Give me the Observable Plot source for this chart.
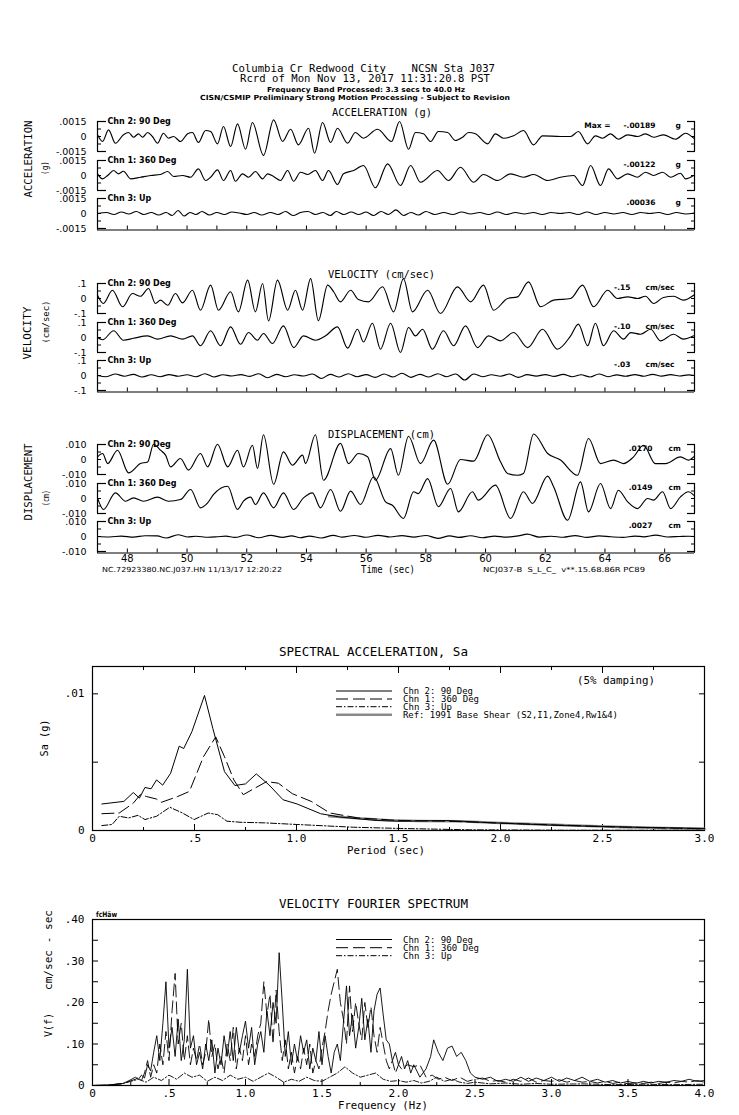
<!DOCTYPE html>
<html><head><meta charset="utf-8">
<script src="https://cdn.jsdelivr.net/npm/d3@7"></script>
<script src="https://cdn.jsdelivr.net/npm/@observablehq/plot@0.6"></script>
<style>
html,body{margin:0;padding:0;background:#fff;}
#page{position:relative;width:739px;height:1115px;overflow:hidden;background:#fff;}
</style></head><body><div id="page"></div>
<script>
const MONO = "'DejaVu Sans Mono', monospace";
const SANS = "'DejaVu Sans', sans-serif";

// ---------- time-history axes ----------
const timeDomain = [47, 67];
const timeTicks = [47,48,49,50,51,52,53,54,55,56,57,58,59,60,61,62,63,64,65,66,67];
const timeTickLabels = [48,50,52,54,56,58,60,62,64,66];
const chnNames = ["Chn 2: 90 Deg", "Chn 1: 360 Deg", "Chn 3: Up"];

// ---------- acceleration (g) ----------
const accTicks = [-0.0015, 0, 0.0015];
const accPeaks = ["-.00189", "-.00122", ".00036"];
const acc90 = [[47.00,.00017],[47.17,-.0005],[47.37,.00067],[47.60,-.00067],[47.87,.00017],[48.04,.0004],[48.21,-.00007],[48.37,.00027],[48.51,-.00007],[48.68,.0004],[48.84,0],[49.01,-.00067],[49.21,.00033],[49.38,-.00017],[49.55,0],[49.78,-.0005],[50.02,.00027],[50.18,.0004],[50.38,-.0006],[50.62,.0006],[50.79,.0005],[51.02,-.00073],[51.22,.001],[51.46,-.001],[51.69,.00127],[51.96,-.00127],[52.19,.0014],[52.56,-.00189],[52.90,.00167],[53.20,-.0005],[53.47,.00073],[53.73,-.00083],[54.07,.00083],[54.27,-.00167],[54.54,.0014],[54.81,-.0006],[55.04,.00083],[55.38,-.00067],[55.64,.0004],[55.91,-.00017],[56.38,.00073],[56.85,-.0005],[57.12,.0015],[57.42,-.00127],[57.65,.0004],[57.92,.00027],[58.16,-.0005],[58.42,.0005],[58.73,.0004],[58.99,-.0004],[59.23,-.00007],[59.43,.0004],[59.66,.00027],[60.07,-.00073],[60.33,.00027],[60.60,-.00017],[60.94,.00007],[61.27,.0006],[61.61,-.00083],[61.91,.00007],[62.51,0],[62.85,0],[63.11,.0005],[63.42,-.00073],[63.68,.00007],[63.92,-.00017],[64.19,.00027],[64.45,-.00027],[64.76,.00017],[65.09,0],[65.36,.00027],[65.63,-.00007],[65.96,.00017],[66.36,-.00027],[66.70,.00033],[66.97,-.00017]];
const acc360 = [[47.00,.00017],[47.17,-.00033],[47.34,0],[47.54,.0005],[47.70,.00017],[47.87,.00043],[48.11,-.00033],[48.44,-.00017],[48.78,0],[49.11,.0001],[49.35,.0004],[49.55,-.0001],[49.85,0],[50.12,-.00017],[50.38,.00067],[50.62,-.0005],[50.79,-.00017],[51.02,.00057],[51.22,-.0005],[51.46,.0005],[51.62,-.00057],[51.86,.00017],[52.06,-.00017],[52.29,.0004],[52.53,-.00033],[52.70,.00017],[52.90,-.0001],[53.13,-.0005],[53.37,.0005],[53.57,-.00057],[53.80,.00033],[54.04,.0001],[54.30,.0005],[54.54,-.0005],[54.74,.0005],[55.04,-.0009],[55.24,.00017],[55.58,.0005],[55.91,.001],[56.31,-.00122],[56.72,.00117],[57.15,-.001],[57.49,.001],[57.82,-.00067],[58.39,.0005],[58.76,-.0005],[59.16,.00083],[59.60,-.00067],[59.93,.0001],[60.40,-.0005],[60.84,.00017],[61.27,-.00017],[61.61,.0001],[62.08,-.0005],[62.51,-.00017],[62.95,0],[63.25,-.001],[63.52,.001],[63.85,-.001],[64.12,.00067],[64.42,-.00033],[64.76,.00017],[65.09,-.00017],[65.36,.00033],[65.63,0],[65.93,.00033],[66.20,-.00017],[66.53,.00023],[66.70,-.00033],[66.97,0]];
const accUp = [[47.0,0],[47.3,.0001],[47.55,-.0001],[47.8,.00015],[48.05,-.00005],[48.3,.0002],[48.55,-.0001],[48.8,.0001],[49.05,-.00015],[49.3,.0001],[49.5,-.0002],[49.7,.0003],[49.9,-.00025],[50.1,.0001],[50.3,-.0001],[50.5,.0002],[50.75,-.00015],[51.0,.0001],[51.25,-.0001],[51.5,.00015],[51.75,.00005],[52.0,-.0001],[52.25,.0001],[52.5,-.00015],[52.8,.0001],[53.05,-.0001],[53.3,.0002],[53.55,-.0002],[53.8,.0001],[54.05,.0002],[54.3,-.0001],[54.55,.0001],[54.8,-.0002],[55.0,.0002],[55.25,-.0001],[55.5,.00015],[55.75,-.0001],[56.0,.00015],[56.25,-.0002],[56.5,.0002],[56.75,-.0001],[57.0,.00036],[57.25,-.0002],[57.5,.0001],[57.75,-.00015],[58.0,.0002],[58.3,-.0001],[58.6,.0001],[58.9,-.0001],[59.2,.00015],[59.5,-.00005],[59.8,.0001],[60.1,-.0001],[60.4,.00015],[60.7,-.0001],[61.0,.0001],[61.3,-.00005],[61.6,.0001],[61.9,-.0001],[62.2,.0001],[62.5,0],[62.8,.0001],[63.1,-.0001],[63.4,.00015],[63.7,-.0001],[64.0,.0001],[64.3,-.00005],[64.6,.0001],[64.9,-.0001],[65.2,.0001],[65.5,0],[65.8,.0001],[66.1,-.0001],[66.4,.0001],[66.7,-.00005],[67.0,.00005]];

// ---------- velocity (cm/sec) ----------
const velTicks = [-0.1, 0, 0.1];
const velPeaks = ["-.15", "-.10", "-.03"];
const vel90 = [[47.00,.022],[47.20,-.033],[47.50,.055],[47.84,-.055],[48.17,.033],[48.44,.015],[48.71,.067],[48.94,-.033],[49.11,-.011],[49.35,-.045],[49.61,.033],[49.85,-.029],[50.18,.055],[50.45,-.078],[50.79,.089],[51.05,-.078],[51.46,.045],[51.72,-.089],[52.03,.122],[52.29,-.089],[52.53,.10],[52.73,-.15],[53.03,.122],[53.37,-.078],[53.63,.055],[53.87,-.078],[54.14,.133],[54.40,-.148],[54.71,.089],[54.91,.045],[55.14,-.022],[55.48,.055],[55.74,-.007],[56.08,-.022],[56.55,.078],[56.92,-.089],[57.25,.133],[57.55,-.089],[58.06,.055],[58.49,-.10],[59.06,.078],[59.50,-.022],[59.93,.089],[60.27,-.078],[60.74,0],[61.07,.011],[61.44,.111],[61.84,-.055],[62.28,-.011],[62.85,0],[63.25,.089],[63.62,-.055],[64.09,.055],[64.42,0],[64.76,.011],[65.09,0],[65.36,.015],[65.63,-.033],[65.96,.007],[66.30,.015],[66.63,-.011],[66.97,.022]];
const vel360 = [[47.00,0],[47.17,-.015],[47.54,.045],[47.87,-.018],[48.21,-.005],[48.68,.011],[49.01,-.011],[49.45,.011],[49.85,-.011],[50.18,.011],[50.45,-.055],[50.79,.045],[51.12,-.055],[51.46,.071],[51.79,-.045],[52.06,.033],[52.36,-.018],[52.56,.027],[52.86,-.04],[53.23,.078],[53.57,-.067],[53.90,.011],[54.30,-.018],[54.64,.011],[55.04,.071],[55.38,-.071],[55.71,.055],[55.91,-.03],[56.21,.095],[56.48,-.078],[56.82,.095],[57.15,-.10],[57.42,.067],[57.65,.011],[57.89,.055],[58.22,-.078],[58.59,.045],[58.93,-.055],[59.33,.078],[59.73,-.067],[60.10,.011],[60.50,-.022],[60.94,.033],[61.41,-.067],[61.91,.055],[62.41,-.078],[62.85,.011],[63.11,.089],[63.42,-.055],[63.68,.095],[63.95,-.055],[64.29,.045],[64.62,-.011],[64.86,.033],[65.19,.022],[65.53,.055],[65.86,-.022],[66.30,.022],[66.63,-.011],[66.97,.011]];
const velUp = [[47.0,0],[47.3,-.008],[47.6,.01],[47.9,-.005],[48.2,.008],[48.5,-.01],[48.8,.005],[49.1,-.008],[49.4,.006],[49.7,-.005],[50.0,.005],[50.3,-.008],[50.6,.012],[50.9,-.01],[51.2,.005],[51.5,-.003],[51.8,.006],[52.1,-.006],[52.4,.012],[52.7,-.015],[53.0,.008],[53.3,-.008],[53.6,.005],[53.9,-.003],[54.2,.01],[54.5,-.02],[54.8,.008],[55.1,-.01],[55.4,.012],[55.7,-.008],[56.0,.006],[56.3,-.012],[56.6,.01],[56.9,-.01],[57.2,.015],[57.5,-.012],[57.8,.008],[58.1,-.01],[58.4,.012],[58.7,-.008],[59.0,.01],[59.3,-.03],[59.6,.01],[59.9,-.008],[60.2,.005],[60.5,-.005],[60.8,.01],[61.1,-.012],[61.4,.006],[61.7,-.004],[62.0,.006],[62.3,-.006],[62.6,.008],[62.9,-.008],[63.2,.005],[63.5,-.01],[63.8,.01],[64.1,-.008],[64.4,.004],[64.7,-.005],[65.0,.006],[65.3,-.005],[65.6,.008],[65.9,-.004],[66.2,.006],[66.5,-.003],[66.8,.004],[67.0,0]];

// ---------- displacement (cm) ----------
const dispTicks = [-0.010, 0, 0.010];
const dispPeaks = [".0170", ".0149", ".0027"];
const disp90 = [[47.00,.0018],[47.17,.004],[47.34,-.0027],[47.67,.0062],[48.04,-.0089],[48.44,-.0027],[48.68,-.0016],[48.88,.0102],[49.11,.0062],[49.28,.0029],[49.45,-.0049],[49.78,.0007],[50.05,-.0071],[50.45,.004],[50.69,-.0049],[51.02,.0102],[51.36,-.0049],[51.69,.0062],[51.89,-.0049],[52.19,.0095],[52.36,-.006],[52.56,.0165],[52.90,-.0165],[53.23,.0051],[53.53,-.0038],[53.87,.0029],[53.97,-.0027],[54.30,.0165],[54.57,-.0138],[55.14,.0107],[55.41,-.0027],[55.74,.004],[56.05,.0018],[56.31,-.0138],[56.82,.0073],[57.08,-.0105],[57.42,.0155],[57.82,-.0027],[58.26,.0129],[58.73,-.0165],[59.16,0],[59.60,-.0011],[60.07,.0165],[60.50,-.0015],[60.74,-.0093],[61.07,-.0105],[61.27,-.0093],[61.61,.017],[62.08,.004],[62.51,-.0004],[63.08,-.0105],[63.45,.014],[63.85,-.0027],[64.29,-.0004],[64.62,-.0027],[64.96,.0018],[65.29,.0095],[65.69,-.0027],[66.03,-.0027],[66.53,.0018],[66.80,-.0004],[66.97,.0018]];
const disp360 = [[47.00,.0004],[47.20,-.0073],[47.60,.0038],[47.94,-.0018],[48.21,.0004],[48.54,-.0018],[49.01,.0009],[49.38,-.0018],[49.78,-.0007],[50.12,.006],[50.45,-.0062],[50.69,-.0029],[50.89,.0027],[51.36,.0082],[51.69,-.0073],[51.89,-.0018],[52.13,.0009],[52.29,-.004],[52.56,.0038],[52.90,-.0062],[53.23,.0038],[53.57,-.0073],[53.90,.0004],[54.20,.0038],[54.47,-.0062],[54.81,.006],[55.14,-.0085],[55.48,.0049],[55.81,-.004],[56.25,.0145],[56.65,-.0022],[56.88,-.0045],[57.25,-.0133],[57.59,.0045],[57.75,.0033],[58.06,.0133],[58.42,-.0055],[58.83,.0067],[59.09,-.0089],[59.56,.0045],[59.76,-.0011],[60.33,.0089],[60.84,-.0133],[61.27,.0045],[61.57,-.0033],[62.08,.0149],[62.28,.0078],[62.75,-.0145],[63.18,.0111],[63.45,-.0089],[63.85,.01],[64.19,-.0067],[64.45,.0055],[64.76,-.0022],[65.09,-.0067],[65.43,0],[65.63,-.0011],[65.93,.0045],[66.20,-.0067],[66.53,.0011],[66.80,.0045],[66.97,.0022]];
const dispUp = [[47.0,0],[47.4,-.0003],[47.8,.0003],[48.2,-.0004],[48.6,.0005],[49.0,.0004],[49.3,-.001],[49.7,.0012],[50.0,-.0003],[50.3,.0002],[50.7,-.0005],[51.0,-.0002],[51.3,.0003],[51.6,-.0006],[52.0,.001],[52.4,-.0008],[52.8,.0008],[53.2,-.0006],[53.5,.0004],[53.8,-.0008],[54.1,.0003],[54.5,-.001],[54.9,.0008],[55.2,-.0004],[55.6,.0007],[56.0,-.0005],[56.4,.0008],[56.8,-.0003],[57.2,.0006],[57.6,-.0004],[58.0,.0007],[58.4,-.0012],[58.8,.0004],[59.1,-.0006],[59.5,.0005],[59.9,-.0008],[60.3,.0003],[60.7,-.0004],[61.1,.0004],[61.4,.0016],[61.8,-.0004],[62.2,.0002],[62.6,-.0005],[63.0,.0006],[63.4,-.0006],[63.8,.0004],[64.2,-.0002],[64.6,-.0006],[65.0,.0003],[65.3,-.0002],[65.7,.0009],[66.1,-.0003],[66.5,0],[66.8,.0002],[67.0,0]];

// ---------- spectral acceleration ----------
const saXTicks = [0,0.5,1,1.5,2,2.5,3];
const saXMinor = [0.25,0.75,1.25,1.75,2.25,2.75];
const saYTicks = [0,0.005,0.01];
const saYLabels = [0,0.01];
const saLegend = ["Chn 2: 90 Deg","Chn 1: 360 Deg","Chn 3: Up","Ref: 1991 Base Shear (S2,I1,Zone4,Rw1&4)"];
const saChn2 = [[0.046,.00194],[0.154,.00213],[0.2,.00278],[0.23,.00237],[0.257,.00315],[0.287,.00305],[0.314,.0037],[0.344,.00332],[0.383,.00419],[0.425,.00617],[0.447,.006],[0.487,.00722],[0.549,.00988],[0.59,.00746],[0.647,.00431],[0.698,.00329],[0.75,.00341],[0.803,.00414],[0.865,.00334],[0.934,.00225],[1.003,.00194],[1.118,.00123],[1.21,.00099],[1.393,.00073],[1.508,.00068],[1.737,.00073],[1.967,.00056],[2.311,.00036],[2.655,.00024],[3.0,.00015]];
const saChn1 = [[0.046,.00123],[0.131,.00128],[0.2,.002],[0.234,.00262],[0.264,.00249],[0.314,.0023],[0.337,.00206],[0.418,.00249],[0.475,.00286],[0.544,.0054],[0.604,.00685],[0.647,.0054],[0.693,.0037],[0.739,.00262],[0.796,.0031],[0.854,.00358],[0.911,.00346],[0.98,.00269],[1.072,.00213],[1.164,.00128],[1.301,.00092],[1.508,.00073],[1.737,.00068],[1.967,.00056],[2.196,.00044],[2.54,.00027],[3.0,.00012]];
const saChn3 = [[0.046,.00036],[0.096,.00044],[0.131,.00104],[0.177,.00092],[0.223,.00111],[0.257,.0008],[0.314,.00104],[0.379,.0017],[0.441,.00128],[0.498,.0008],[0.567,.00128],[0.613,.00116],[0.659,.00068],[0.728,.0006],[0.842,.00056],[1.003,.00044],[1.278,.00024],[1.508,.00015],[1.852,.00005],[2.311,.00002],[3.0,.00002]];
const saRef = [[1.16,.00105],[1.3,.0009],[1.45,.00075],[1.6,.0007],[1.8,.00068],[2.0,.00055],[2.2,.00045],[2.4,.00035],[2.6,.00025],[2.8,.00018],[3.0,.00013]];

// ---------- velocity Fourier spectrum ----------
const fsXTicks = [0,0.5,1,1.5,2,2.5,3,3.5,4];
const fsXMinor = [0.25,0.75,1.25,1.75,2.25,2.75,3.25,3.75];
const fsYTicks = [0,0.05,0.1,0.15,0.2,0.25,0.3,0.35,0.4];
const fsYLabels = [0,0.1,0.2,0.3,0.4];
const fsLegend = ["Chn 2: 90 Deg","Chn 1: 360 Deg","Chn 3: Up"];
const fsChn2 = [[0,0],[0.10,0.001],[0.20,0.005],[0.24,0.012],[0.28,0.02],[0.30,0.015],[0.32,0.025],[0.34,0.018],[0.36,0.05],[0.38,0.035],[0.40,0.08],[0.42,0.12],[0.44,0.06],[0.46,0.15],[0.48,0.25],[0.50,0.09],[0.52,0.14],[0.54,0.07],[0.56,0.16],[0.58,0.06],[0.60,0.11],[0.62,0.28],[0.64,0.09],[0.66,0.12],[0.68,0.05],[0.70,0.08],[0.72,0.04],[0.74,0.10],[0.76,0.06],[0.78,0.11],[0.80,0.03],[0.82,0.09],[0.84,0.05],[0.86,0.12],[0.88,0.07],[0.90,0.13],[0.92,0.06],[0.94,0.14],[0.96,0.08],[0.98,0.12],[1.00,0.155],[1.02,0.09],[1.04,0.14],[1.06,0.05],[1.08,0.10],[1.10,0.13],[1.12,0.08],[1.14,0.18],[1.16,0.12],[1.18,0.20],[1.20,0.15],[1.22,0.32],[1.24,0.20],[1.26,0.07],[1.28,0.13],[1.30,0.05],[1.32,0.10],[1.34,0.06],[1.36,0.12],[1.38,0.08],[1.40,0.11],[1.42,0.04],[1.44,0.09],[1.46,0.06],[1.48,0.13],[1.50,0.05],[1.52,0.12],[1.54,0.07],[1.56,0.03],[1.58,0.08],[1.60,0.10],[1.62,0.06],[1.64,0.15],[1.66,0.24],[1.68,0.12],[1.70,0.17],[1.72,0.09],[1.74,0.14],[1.76,0.21],[1.78,0.11],[1.80,0.16],[1.82,0.08],[1.84,0.18],[1.86,0.22],[1.88,0.235],[1.90,0.17],[1.92,0.11],[1.94,0.10],[1.96,0.06],[1.98,0.08],[2.00,0.05],[2.02,0.07],[2.04,0.04],[2.06,0.06],[2.08,0.03],[2.10,0.05],[2.14,0.02],[2.18,0.04],[2.21,0.07],[2.23,0.11],[2.26,0.08],[2.29,0.06],[2.32,0.09],[2.35,0.095],[2.38,0.07],[2.41,0.08],[2.44,0.06],[2.47,0.03],[2.50,0.02],[2.55,0.015],[2.60,0.02],[2.65,0.01],[2.70,0.015],[2.75,0.01],[2.80,0.02],[2.85,0.01],[2.90,0.018],[2.95,0.012],[3.00,0.02],[3.05,0.01],[3.10,0.018],[3.15,0.012],[3.20,0.02],[3.25,0.01],[3.30,0.015],[3.35,0.008],[3.40,0.012],[3.45,0.006],[3.50,0.01],[3.55,0.005],[3.60,0.01],[3.65,0.006],[3.70,0.01],[3.75,0.008],[3.80,0.012],[3.85,0.01],[3.90,0.015],[3.95,0.01],[4.00,0.012]];
const fsChn1 = [[0,0],[0.10,0.001],[0.20,0.004],[0.24,0.01],[0.28,0.015],[0.30,0.02],[0.32,0.012],[0.34,0.03],[0.36,0.06],[0.38,0.02],[0.40,0.05],[0.42,0.03],[0.44,0.10],[0.46,0.05],[0.48,0.13],[0.50,0.06],[0.52,0.18],[0.54,0.27],[0.56,0.10],[0.58,0.15],[0.60,0.06],[0.62,0.12],[0.64,0.05],[0.66,0.09],[0.68,0.06],[0.70,0.10],[0.72,0.05],[0.74,0.08],[0.76,0.16],[0.78,0.07],[0.80,0.10],[0.82,0.04],[0.84,0.07],[0.86,0.03],[0.88,0.10],[0.90,0.06],[0.92,0.14],[0.94,0.04],[0.96,0.09],[0.98,0.06],[1.00,0.12],[1.02,0.05],[1.04,0.10],[1.06,0.07],[1.08,0.12],[1.10,0.15],[1.12,0.25],[1.14,0.17],[1.16,0.22],[1.18,0.10],[1.20,0.23],[1.22,0.13],[1.24,0.06],[1.26,0.11],[1.28,0.04],[1.30,0.08],[1.32,0.03],[1.34,0.07],[1.36,0.04],[1.38,0.09],[1.40,0.05],[1.42,0.10],[1.44,0.03],[1.46,0.06],[1.48,0.04],[1.50,0.09],[1.52,0.13],[1.54,0.18],[1.56,0.22],[1.58,0.25],[1.60,0.28],[1.62,0.20],[1.64,0.16],[1.66,0.10],[1.68,0.24],[1.70,0.13],[1.72,0.20],[1.74,0.15],[1.76,0.11],[1.78,0.20],[1.80,0.14],[1.82,0.19],[1.84,0.12],[1.86,0.08],[1.88,0.14],[1.90,0.10],[1.92,0.06],[1.94,0.04],[1.96,0.06],[1.98,0.03],[2.00,0.05],[2.02,0.04],[2.06,0.05],[2.10,0.045],[2.14,0.05],[2.18,0.02],[2.22,0.025],[2.26,0.015],[2.30,0.02],[2.35,0.012],[2.40,0.02],[2.45,0.01],[2.50,0.015],[2.55,0.018],[2.60,0.01],[2.65,0.012],[2.70,0.008],[2.75,0.015],[2.80,0.01],[2.85,0.018],[2.90,0.008],[2.95,0.012],[3.00,0.01],[3.05,0.014],[3.10,0.008],[3.15,0.012],[3.20,0.008],[3.25,0.01],[3.30,0.006],[3.35,0.01],[3.40,0.005],[3.45,0.008],[3.50,0.004],[3.55,0.007],[3.60,0.005],[3.65,0.008],[3.70,0.005],[3.75,0.008],[3.80,0.006],[3.85,0.01],[3.90,0.008],[3.95,0.012],[4.00,0.008]];
const fsChn3 = [[0,0],[0.1,0.001],[0.2,0.005],[0.25,0.01],[0.3,0.015],[0.35,0.008],[0.4,0.02],[0.45,0.012],[0.5,0.025],[0.55,0.015],[0.6,0.03],[0.65,0.02],[0.7,0.025],[0.75,0.01],[0.8,0.02],[0.85,0.012],[0.9,0.025],[0.95,0.015],[1.0,0.02],[1.05,0.01],[1.1,0.02],[1.15,0.03],[1.2,0.02],[1.25,0.008],[1.3,0.015],[1.35,0.01],[1.4,0.02],[1.45,0.012],[1.5,0.01],[1.55,0.02],[1.6,0.03],[1.65,0.045],[1.7,0.03],[1.75,0.02],[1.8,0.025],[1.85,0.03],[1.9,0.015],[1.95,0.01],[2.0,0.012],[2.05,0.008],[2.1,0.012],[2.15,0.006],[2.2,0.01],[2.25,0.02],[2.3,0.01],[2.35,0.015],[2.4,0.008],[2.45,0.005],[2.5,0.008],[2.6,0.004],[2.7,0.006],[2.8,0.003],[2.9,0.005],[3.0,0.003],[3.2,0.004],[3.4,0.002],[3.6,0.003],[3.8,0.002],[4.0,0.003]];

// ---------- build ----------
const page = document.getElementById("page");
const plotStyle = (fam, size) => `background:transparent;overflow:visible;color:#000;font-family:${fam};font-size:${size}px;max-width:none;`;
function place(el, top) {
  el.style.position = "absolute"; el.style.left = "0px"; el.style.top = top + "px";
  page.appendChild(el);
}
const fmtDec = d => v => v === 0 ? "0" : (v < 0 ? "-" : "") + Math.abs(v).toFixed(d).replace(/^0/, "");

const sections = [
  {F: 0.0015, dec: 4, zero: 136.2, ticks: accTicks, peaks: accPeaks, unit: "g", data: [acc90, acc360, accUp], valDx: -39, unitDx: -19, max: true, labels: false},
  {F: 0.1, dec: 1, zero: 298.3, ticks: velTicks, peaks: velPeaks, unit: "cm/sec", data: [vel90, vel360, velUp], valDx: -64, unitDx: -49, max: false, labels: false},
  {F: 0.010, dec: 3, zero: 459.3, ticks: dispTicks, peaks: dispPeaks, unit: "cm", data: [disp90, disp360, dispUp], valDx: -42, unitDx: -26, max: false, labels: true}
];
const GAP = 38.5;

for (const sec of sections) {
  for (let k = 0; k < 3; k++) {
    const F = sec.F, last = k === 2;
    const above = 20, below = last ? 16.5 : 20, extra = last ? 26 : 0;
    const yLo = -F * below / 15, yHi = F * above / 15;
    const lab = {fontFamily: SANS, fontSize: 7.5, fontWeight: "bold", lineAnchor: "middle"};
    const marks = [
      Plot.ruleX(timeDomain, {x: d => d, y1: last ? yLo : -F, y2: F, strokeWidth: 1.2}),
      Plot.axisY([-F, F], {anchor: "left", tickSize: 9, dx: 9, fill: "none", strokeWidth: 1.2}),
      Plot.axisY([-F / 2, 0, F / 2], {anchor: "left", tickSize: 4, dx: 4, fill: "none"}),
      Plot.axisY([-F, F], {anchor: "right", tickSize: 8, dx: -8, fill: "none", strokeWidth: 1.2}),
      Plot.axisY([-F / 2, 0, F / 2], {anchor: "right", tickSize: 4, dx: -4, fill: "none"}),
      Plot.axisY(sec.ticks, {anchor: "left", tickSize: 0, tickPadding: 11, tickFormat: fmtDec(sec.dec), fontSize: 9.5, label: null}),
      Plot.line(sec.data[k], {x: d => d[0], y: d => d[1], curve: "monotone-x", stroke: "#000", strokeWidth: 1.15}),
      Plot.text([chnNames[k]], {text: d => d, frameAnchor: "top-left", textAnchor: "start", dx: 10, dy: 5, ...lab, fontSize: 8}),
      Plot.text([sec.peaks[k]], {text: d => d, frameAnchor: "top-right", textAnchor: "end", dx: sec.valDx, dy: 9.5, ...lab}),
      Plot.text([sec.unit], {text: d => d, frameAnchor: "top-right", textAnchor: "start", dx: sec.unitDx, dy: 9.5, ...lab})
    ];
    if (sec.max && k === 0) marks.push(Plot.text(["Max ="], {text: d => d, frameAnchor: "top-right", textAnchor: "end", dx: -84, dy: 9.5, ...lab}));
    if (last) {
      marks.push(Plot.ruleY([yLo], {strokeWidth: 1.2}));
      marks.push(Plot.axisX(timeTicks, {anchor: "bottom", tickSize: 4, dy: -4, fill: "none"}));
      if (sec.labels) marks.push(Plot.axisX(timeTickLabels, {anchor: "bottom", tickSize: 0, tickPadding: 2, tickFormat: d => String(d), fontSize: 10, label: null}));
    }
    const opts = {
      width: 739, height: above + below + extra,
      marginTop: 0, marginBottom: extra, marginLeft: 97, marginRight: 45,
      x: {domain: timeDomain}, y: {domain: [yLo, yHi]},
      style: plotStyle(SANS, 9.5), marks
    };
    if (!last) opts.x.axis = null;
    place(Plot.plot(opts), sec.zero + k * GAP - 20);
  }
}

const fmtP = v => v === 0 ? "0" : v < 1 ? String(v).replace(/^0/, "") : v.toFixed(1);
const dash1 = "12,5", dash3 = "6,2,1.5,2";

const sa = Plot.plot({
  width: 739, height: 230, marginTop: 30, marginBottom: 36, marginLeft: 92, marginRight: 35,
  x: {domain: [0, 3]}, y: {domain: [0, 0.012]},
  style: plotStyle(MONO, 11),
  marks: [
    Plot.frame({stroke: "#000", strokeWidth: 1.2}),
    Plot.axisX(saXMinor, {anchor: "bottom", tickSize: 3, dy: -3, fill: "none"}),
    Plot.axisX(saXTicks, {anchor: "bottom", tickSize: 6, dy: -6, fill: "none"}),
    Plot.axisX(saXMinor, {anchor: "top", tickSize: 3, dy: 3, fill: "none"}),
    Plot.axisX(saXTicks, {anchor: "top", tickSize: 6, dy: 6, fill: "none"}),
    Plot.axisY(saYTicks, {anchor: "left", tickSize: 6, dx: 6, fill: "none"}),
    Plot.axisY(saYTicks, {anchor: "right", tickSize: 6, dx: -6, fill: "none"}),
    Plot.axisX(saXTicks, {anchor: "bottom", tickSize: 0, tickPadding: 4, tickFormat: fmtP, fontSize: 11, label: null}),
    Plot.axisY(saYLabels, {anchor: "left", tickSize: 0, tickPadding: 8, tickFormat: v => v === 0 ? "0" : ".01", fontSize: 11, label: null}),
    Plot.line(saRef, {x: d => d[0], y: d => d[1], stroke: "#8a8a8a", strokeWidth: 2.6}),
    Plot.line(saChn3, {x: d => d[0], y: d => d[1], stroke: "#000", strokeWidth: 1, strokeDasharray: dash3}),
    Plot.line(saChn1, {x: d => d[0], y: d => d[1], stroke: "#000", strokeWidth: 1, strokeDasharray: dash1}),
    Plot.line(saChn2, {x: d => d[0], y: d => d[1], stroke: "#000", strokeWidth: 1})
  ]
});
place(sa, 636);

const fs = Plot.plot({
  width: 739, height: 220, marginTop: 24, marginBottom: 30, marginLeft: 92, marginRight: 35,
  x: {domain: [0, 4]}, y: {domain: [0, 0.4]},
  style: plotStyle(MONO, 11),
  marks: [
    Plot.frame({stroke: "#000", strokeWidth: 1.2}),
    Plot.axisX(fsXMinor, {anchor: "bottom", tickSize: 3, dy: -3, fill: "none"}),
    Plot.axisX(fsXTicks, {anchor: "bottom", tickSize: 6, dy: -6, fill: "none"}),
    Plot.axisY(fsYTicks, {anchor: "left", tickSize: 6, dx: 6, fill: "none"}),
    Plot.axisY(fsYTicks, {anchor: "right", tickSize: 6, dx: -6, fill: "none"}),
    Plot.axisX(fsXTicks, {anchor: "bottom", tickSize: 0, tickPadding: 4, tickFormat: fmtP, fontSize: 11, label: null}),
    Plot.axisY(fsYLabels, {anchor: "left", tickSize: 0, tickPadding: 8, tickFormat: v => v === 0 ? "0" : v.toFixed(2).replace(/^0/, ""), fontSize: 11, label: null}),
    Plot.line(fsChn3, {x: d => d[0], y: d => d[1], stroke: "#000", strokeWidth: 0.9, strokeDasharray: dash3}),
    Plot.line(fsChn1, {x: d => d[0], y: d => d[1], stroke: "#000", strokeWidth: 0.9, strokeDasharray: dash1}),
    Plot.line(fsChn2, {x: d => d[0], y: d => d[1], stroke: "#000", strokeWidth: 0.9})
  ]
});
place(fs, 895);

// ---------- overlay texts ----------
const ov = d3.create("svg").attr("width", 739).attr("height", 1115)
  .style("position", "absolute").style("left", "0px").style("top", "0px").style("overflow", "visible");
function label(s, x, y, o = {}) {
  const size = o.size ?? 11;
  const g = ov.append("g").attr("transform", `translate(${x},${y})` + (o.rotate ? " rotate(-90)" : ""));
  const t = g.append("text").attr("x", 0).attr("y", size * 0.36)
    .attr("text-anchor", o.anchor ?? "middle").attr("font-family", o.family ?? MONO)
    .attr("font-size", size).attr("font-weight", o.weight ?? "normal").attr("fill", "#000")
    .style("white-space", "pre").text(s);
  if (o.len) t.attr("textLength", o.len).attr("lengthAdjust", "spacingAndGlyphs");
}
label("Columbia Cr Redwood City    NCSN Sta J037", 363.5, 68.5, {size: 10.5, len: 263});
label("Rcrd of Mon Nov 13, 2017 11:31:20.8 PST", 365, 78.5, {size: 10.5, len: 250});
label("Frequency Band Processed: 3.3 secs to 40.0 Hz", 366, 89, {size: 7, family: SANS, weight: "bold", len: 198});
label("CISN/CSMIP Preliminary Strong Motion Processing - Subject to Revision", 355, 97.5, {size: 7, family: SANS, weight: "bold", len: 310});

label("ACCELERATION (g)", 382, 112.5, {size: 11, len: 100});
label("VELOCITY (cm/sec)", 381.5, 274, {size: 11, len: 107});
label("DISPLACEMENT (cm)", 381.5, 434.5, {size: 11, len: 107});

label("ACCELERATION", 28, 159, {size: 10.5, rotate: true, len: 77});
label("(g)", 45, 168, {size: 9, rotate: true, len: 14});
label("VELOCITY", 27, 333, {size: 10.5, rotate: true, len: 53});
label("(cm/sec)", 46, 322, {size: 8.5, rotate: true, len: 43});
label("DISPLACEMENT", 28, 482, {size: 10.5, rotate: true, len: 77});
label("(cm)", 46, 498, {size: 8.5, rotate: true, len: 16});

label("Time (sec)", 388, 569, {size: 10.5, len: 54});
label("NC.72923380.NC.J037.HN 11/13/17 12:20:22", 102, 569.5, {size: 7, family: SANS, anchor: "start", len: 180});
label("NCJ037-B  S_L_C_  v**.15.68.86R PC89", 483, 569.5, {size: 7, family: SANS, anchor: "start", len: 162});

label("SPECTRAL ACCELERATION, Sa", 373.5, 651, {size: 12.5, len: 189});
label("(5% damping)", 616, 680, {size: 11, len: 78});
label("Sa (g)", 44, 738, {size: 11, rotate: true, len: 37});
label("Period (sec)", 386, 850, {size: 11, len: 78});
const saLegY = [691, 699, 706.7, 714.7], saLegLen = [70, 76, 49, 215];
const saLegStyle = [{d: null, c: "#000", w: 1}, {d: dash1, c: "#000", w: 1}, {d: dash3, c: "#000", w: 1}, {d: null, c: "#8a8a8a", w: 2.6}];
saLegend.forEach((s, i) => {
  ov.append("line").attr("x1", 336).attr("x2", 392).attr("y1", saLegY[i]).attr("y2", saLegY[i])
    .attr("stroke", saLegStyle[i].c).attr("stroke-width", saLegStyle[i].w).attr("stroke-dasharray", saLegStyle[i].d);
  label(s, 403, saLegY[i], {size: 9.5, anchor: "start", len: saLegLen[i]});
});

label("VELOCITY FOURIER SPECTRUM", 373.5, 903, {size: 12.5, len: 189});
label("fcHäw", 96, 914, {size: 7.5, family: SANS, weight: "bold", anchor: "start", len: 21});
label("V(f)", 48, 1025, {size: 11, rotate: true, len: 24});
label("cm/sec - sec", 48, 950, {size: 11, rotate: true, len: 80});
label("Frequency (Hz)", 383, 1105, {size: 11, len: 90});
const fsLegY = [939.5, 947.7, 955.7], fsLegLen = [70, 76, 49];
fsLegend.forEach((s, i) => {
  ov.append("line").attr("x1", 336).attr("x2", 392).attr("y1", fsLegY[i]).attr("y2", fsLegY[i])
    .attr("stroke", "#000").attr("stroke-width", 1).attr("stroke-dasharray", saLegStyle[i].d);
  label(s, 403, fsLegY[i], {size: 9.5, anchor: "start", len: fsLegLen[i]});
});
page.appendChild(ov.node());
</script></body></html>
